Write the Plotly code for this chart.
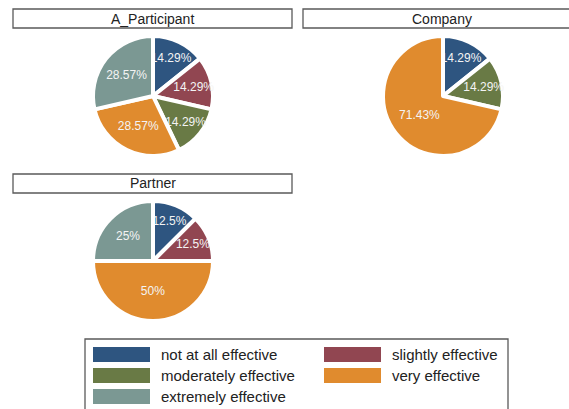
import plotly.graph_objects as go

W, H = 569, 409

categories = ["not at all effective", "slightly effective", "moderately effective",
              "very effective", "extremely effective"]
colors = ["#2e5580", "#914651", "#697a45", "#e08b2e", "#7b9893"]

groups = ["A_Participant", "Company", "Partner"]
# percentage share of each rating within a group (0 = rating not given)
pct_participant = [14.29, 14.29, 14.29, 28.57, 28.57]
pct_company = [14.29, 0, 14.29, 71.43, 0]
pct_partner = [12.5, 12.5, 0, 50, 25]
shares = [pct_participant, pct_company, pct_partner]

FONT = "Arial, Liberation Sans, sans-serif"


def px_x(x):
    return x / W


def px_y(y):
    return 1 - y / H


# panel centres (pixels) and pie radius
centres = [(153, 96), (443, 96), (153, 261)]
R = 60
title_boxes = [(13, 292, 9, 28), (303, 580, 9, 28), (13, 292, 174, 193)]

fig = go.Figure()
shapes, annotations = [], []

for name, vals, (cx, cy), (bx0, bx1, by0, by1) in zip(groups, shares, centres, title_boxes):
    keep = [i for i, v in enumerate(vals) if v > 0]
    fig.add_trace(go.Pie(
        labels=[categories[i] for i in keep],
        values=[vals[i] for i in keep],
        text=[f"{vals[i]:g}%" for i in keep],
        textinfo="text",
        textposition="inside",
        insidetextorientation="horizontal",
        textfont=dict(family=FONT, size=12, color="#f4f4f4"),
        marker=dict(colors=[colors[i] for i in keep], line=dict(color="white", width=4)),
        sort=False,
        direction="clockwise",
        rotation=0,
        domain=dict(x=[px_x(cx - R), px_x(cx + R)], y=[px_y(cy + R), px_y(cy - R)]),
        showlegend=False,
        hoverinfo="label+text",
    ))
    shapes.append(dict(type="rect", xref="paper", yref="paper",
                       x0=px_x(bx0), x1=px_x(bx1), y0=px_y(by1), y1=px_y(by0),
                       line=dict(color="#5a5a5a", width=1.3), fillcolor="white"))
    annotations.append(dict(text=name, xref="paper", yref="paper",
                            x=px_x((bx0 + min(bx1, 582)) / 2 if name != "Company" else 442),
                            y=px_y((by0 + by1) / 2), xanchor="center", yanchor="middle",
                            showarrow=False, font=dict(family=FONT, size=14, color="#222222")))

# legend box with two columns of swatches
shapes.append(dict(type="rect", xref="paper", yref="paper",
                   x0=px_x(85), x1=px_x(508), y0=px_y(420), y1=px_y(339),
                   line=dict(color="#5a5a5a", width=1.3), fillcolor="white"))
col_x = [93, 324]
row_y = [354.5, 375.5, 396.5]
for k, (cat, col) in enumerate(zip(categories, colors)):
    r, c = divmod(k, 2)
    sx, sy = col_x[c], row_y[r]
    shapes.append(dict(type="rect", xref="paper", yref="paper",
                       x0=px_x(sx), x1=px_x(sx + 57), y0=px_y(sy + 7.5), y1=px_y(sy - 7.5),
                       line=dict(width=0), fillcolor=col))
    annotations.append(dict(text=cat, xref="paper", yref="paper",
                            x=px_x(sx + 66), y=px_y(sy), xanchor="left", yanchor="middle",
                            showarrow=False, font=dict(family=FONT, size=15, color="#222222")))

fig.update_layout(
    width=W, height=H,
    margin=dict(l=0, r=0, t=0, b=0),
    paper_bgcolor="white",
    plot_bgcolor="white",
    shapes=shapes,
    annotations=annotations,
    uniformtext=dict(minsize=12, mode="show"),
)

fig.write_html("out.html")
